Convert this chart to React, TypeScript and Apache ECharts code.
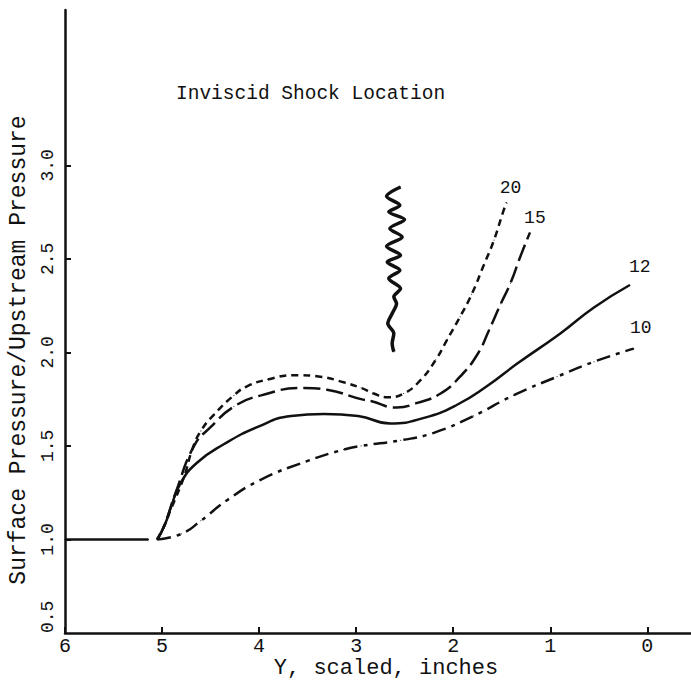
import React, { useEffect, useRef } from "react";
import * as echarts from "echarts";

const FONT = "Liberation Mono";

const xTicks = [0, 1, 2, 3, 4, 5, 6];
const yTicks = [0.5, 1.0, 1.5, 2.0, 2.5, 3.0];

const flatLine: number[][] = [[6.0, 1.0], [5.14, 1.0]];

const curve20: number[][] = [
  [5.05, 1.0], [4.98, 1.07], [4.91, 1.16], [4.77, 1.34], [4.69, 1.48], [4.6, 1.58],
  [4.46, 1.67], [4.26, 1.77], [4.12, 1.82], [3.91, 1.855], [3.64, 1.878], [3.37, 1.87],
  [3.13, 1.84], [2.95, 1.81], [2.82, 1.78], [2.68, 1.76], [2.51, 1.78], [2.34, 1.85],
  [2.18, 1.96], [2.06, 2.07], [1.93, 2.19], [1.81, 2.31], [1.69, 2.46], [1.58, 2.6],
  [1.48, 2.76], [1.45, 2.8],
];

const curve15: number[][] = [
  [5.05, 1.0], [4.98, 1.07], [4.86, 1.25], [4.67, 1.5], [4.5, 1.6], [4.26, 1.71],
  [3.98, 1.77], [3.54, 1.81], [3.3, 1.8], [2.95, 1.75], [2.85, 1.74], [2.58, 1.705],
  [2.37, 1.73], [2.13, 1.78], [1.93, 1.87], [1.75, 1.99], [1.63, 2.12], [1.51, 2.26],
  [1.41, 2.37], [1.31, 2.51], [1.21, 2.64],
];

const curve12: number[][] = [
  [5.05, 1.0], [4.97, 1.08], [4.91, 1.17], [4.81, 1.3], [4.64, 1.41], [4.36, 1.51],
  [4.02, 1.6], [3.67, 1.66], [3.33, 1.67], [2.98, 1.66], [2.65, 1.62], [2.3, 1.65],
  [1.96, 1.72], [1.65, 1.82], [1.34, 1.94], [0.9, 2.1], [0.55, 2.24], [0.18, 2.36],
];

const curve10: number[][] = [
  [5.05, 1.0], [4.8, 1.03], [4.6, 1.1], [4.33, 1.21], [3.98, 1.32], [3.5, 1.42],
  [3.13, 1.48], [2.95, 1.5], [2.54, 1.53], [2.2, 1.57], [1.79, 1.66], [1.38, 1.77],
  [0.93, 1.87], [0.55, 1.95], [0.14, 2.02],
];

const shockWiggle: number[][] = [
  [2.543, 2.884], [2.687, 2.834], [2.55, 2.786], [2.664, 2.751], [2.502, 2.71],
  [2.653, 2.662], [2.526, 2.617], [2.687, 2.567], [2.543, 2.519], [2.68, 2.483],
  [2.55, 2.439], [2.664, 2.395], [2.543, 2.341], [2.612, 2.297], [2.584, 2.261],
  [2.629, 2.208], [2.674, 2.154], [2.612, 2.101], [2.629, 2.048], [2.612, 2.003],
];

const curveNames = ["20", "15", "12", "10"];

const INK = "#111";

function withEndLabel(data: number[][], text: string, offset: number[]) {
  return data.map((p, i) =>
    i === data.length - 1
      ? {
          value: p,
          label: {
            show: true,
            formatter: text,
            position: "top",
            offset,
            fontFamily: FONT,
            fontSize: 18,
            color: INK,
          },
        }
      : { value: p }
  );
}

export default function App() {
  const ref = useRef<HTMLDivElement>(null);
  useEffect(() => {
    if (!ref.current) return;
    const chart = echarts.init(ref.current, undefined, { renderer: "svg" });
    const lineBase = {
      type: "line",
      smooth: true,
      symbol: "circle",
      symbolSize: 1,
      showSymbol: true,
      itemStyle: { color: INK },
      label: { show: false },
      silent: true,
    };
    chart.setOption({
      animation: false,
      backgroundColor: "#fff",
      title: {
        text: "Inviscid Shock Location",
        left: 171,
        top: 79,
        textStyle: { fontFamily: FONT, fontSize: 19.5, fontWeight: "normal", color: INK },
      },
      grid: { left: 65, right: 0, top: 10, bottom: 48 },
      xAxis: {
        type: "value",
        inverse: true,
        min: -0.45,
        max: 6,
        axisLine: { show: true, onZero: false, lineStyle: { color: INK, width: 2.5 } },
        axisTick: { show: true, inside: true, length: 6, lineStyle: { color: INK, width: 2 }, customValues: xTicks },
        axisLabel: {
          customValues: xTicks,
          margin: 3,
          fontFamily: FONT,
          fontSize: 20,
          color: INK,
          formatter: (v: number) => String(Math.round(v)),
        },
        splitLine: { show: false },
      },
      yAxis: {
        type: "value",
        min: 0.5,
        max: 3.83,
        axisLine: { show: true, onZero: false, lineStyle: { color: INK, width: 2.5 } },
        axisTick: {
          show: true,
          inside: true,
          length: 6,
          lineStyle: { color: INK, width: 2 },
          customValues: yTicks.slice(1),
        },
        axisLabel: {
          customValues: yTicks,
          rotate: 90,
          margin: 8,
          fontFamily: FONT,
          fontSize: 18,
          color: INK,
          alignMinLabel: "left",
          formatter: (v: number) => v.toFixed(1),
        },
        splitLine: { show: false },
      },
      graphic: [
        {
          type: "text",
          x: 19,
          y: 350,
          rotation: Math.PI / 2,
          style: {
            text: "Surface Pressure/Upstream Pressure",
            fontFamily: FONT,
            fontSize: 23,
            fill: INK,
            align: "center",
            verticalAlign: "middle",
          },
        },
        {
          type: "text",
          x: 386,
          y: 668,
          style: {
            text: "Y, scaled, inches",
            fontFamily: FONT,
            fontSize: 22,
            fill: INK,
            align: "center",
            verticalAlign: "middle",
          },
        },
      ],
      series: [
        {
          ...lineBase,
          smooth: false,
          data: flatLine,
          lineStyle: { color: INK, width: 2.5, type: "solid" },
        },
        {
          ...lineBase,
          name: curveNames[0],
          data: withEndLabel(curve20, curveNames[0], [4, 0]),
          lineStyle: { color: INK, width: 2.5, type: [7, 5] },
        },
        {
          ...lineBase,
          name: curveNames[1],
          data: withEndLabel(curve15, curveNames[1], [5, 0]),
          lineStyle: { color: INK, width: 2.5, type: [17, 6] },
        },
        {
          ...lineBase,
          name: curveNames[2],
          data: withEndLabel(curve12, curveNames[2], [10, -4]),
          lineStyle: { color: INK, width: 2.5, type: "solid" },
        },
        {
          ...lineBase,
          name: curveNames[3],
          data: withEndLabel(curve10, curveNames[3], [7, -6]),
          lineStyle: { color: INK, width: 2.5, type: [14, 6, 4, 6] },
        },
        {
          ...lineBase,
          smooth: 0.3,
          data: shockWiggle,
          lineStyle: { color: INK, width: 3.5, type: "solid" },
        },
      ],
    });
    return () => chart.dispose();
  }, []);
  return (
    <div
      ref={ref}
      style={{ position: "absolute", left: 0, top: 0, width: 691, height: 681, background: "#fff" }}
    />
  );
}
